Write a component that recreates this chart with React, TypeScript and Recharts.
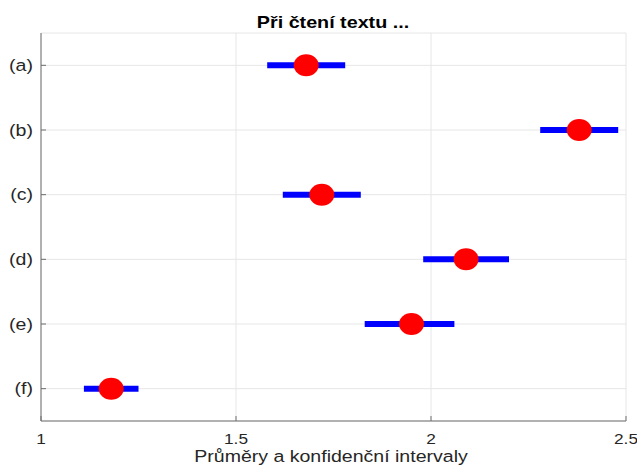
import React from 'react';
import { ScatterChart, Scatter, XAxis, YAxis, CartesianGrid, ErrorBar } from 'recharts';

// Groups shown on the vertical axis, top to bottom
const categories = ['(a)', '(b)', '(c)', '(d)', '(e)', '(f)'];
// Group means and the bounds of their confidence intervals
const means = [1.68, 2.38, 1.72, 2.09, 1.95, 1.18];
const lower = [1.58, 2.28, 1.62, 1.98, 1.83, 1.11];
const upper = [1.78, 2.48, 1.82, 2.2, 2.06, 1.25];
const xTicks = [1, 1.5, 2, 2.5];
const yTicks = [1, 2, 3, 4, 5, 6];

const titleText = 'Při čtení textu ...';
const xLabelText = 'Průměry a konfidenční intervaly';

const rows = categories.map((label, i) => ({
  label,
  pos: i + 1,
  mean: means[i],
  ci: [means[i] - lower[i], upper[i] - means[i]],
}));

const FONT = '"Liberation Sans", Arial, Helvetica, sans-serif';
const AXIS = '#6e6e6e';
const TEXT = '#262626';
// Text is drawn slightly widened to suit the wide figure aspect
const WIDEN = 1.15;

const MeanDot = (props: any) => {
  const { cx, cy } = props;
  if (cx == null || cy == null) return null;
  return <ellipse cx={cx} cy={cy} rx={12.5} ry={11} fill="#ff0000" />;
};

const NoDot = () => <g />;

const XTick = (props: any) => {
  const { x, y, payload } = props;
  return (
    <g transform={`translate(${x},${y + 12}) scale(${WIDEN},1)`}>
      <text x={0} y={0} textAnchor="middle" fill={TEXT} fontSize={15} fontFamily={FONT}>
        {String(payload.value)}
      </text>
    </g>
  );
};

const YTick = (props: any) => {
  const { x, y, payload } = props;
  return (
    <g transform={`translate(${x},${y + 5.5}) scale(${WIDEN},1)`}>
      <text x={0} y={0} textAnchor="end" fill={TEXT} fontSize={17} fontFamily={FONT}>
        {categories[payload.value - 1] ?? ''}
      </text>
    </g>
  );
};

export default function App() {
  return (
    <div style={{ position: 'absolute', left: 0, top: 0, width: 637, height: 469, background: '#fff', fontFamily: FONT }}>
      <ScatterChart width={637} height={469} margin={{ top: 33, right: 11, bottom: 0, left: 0 }} style={{ fontFamily: FONT }}>
        <CartesianGrid stroke="#e6e6e6" strokeWidth={1} />
        <XAxis
          type="number"
          dataKey="mean"
          domain={[1, 2.5]}
          ticks={xTicks}
          allowDataOverflow
          height={48}
          stroke={AXIS}
          tickSize={-5}
          tickMargin={16}
          tick={XTick}
        />
        <YAxis
          type="number"
          dataKey="pos"
          domain={[0.5, 6.5]}
          ticks={yTicks}
          reversed
          width={41}
          stroke={AXIS}
          tickSize={-5}
          tickMargin={13}
          tick={YTick}
        />
        <Scatter data={rows} shape={NoDot} isAnimationActive={false}>
          <ErrorBar dataKey="ci" direction="x" width={0} stroke="#0000ff" strokeWidth={6} isAnimationActive={false} />
        </Scatter>
        <Scatter data={rows} shape={MeanDot} isAnimationActive={false} />
      </ScatterChart>
      <svg width={637} height={469} style={{ position: 'absolute', left: 0, top: 0, pointerEvents: 'none' }}>
        <g transform={`translate(333,28.3) scale(1.16,1)`}>
          <text x={0} y={0} textAnchor="middle" fontSize={17} fontWeight="bold" fill="#000" fontFamily={FONT}>
            {titleText}
          </text>
        </g>
        <g transform={`translate(331,462) scale(${WIDEN},1)`}>
          <text x={0} y={0} textAnchor="middle" fontSize={17} fill={TEXT} fontFamily={FONT}>
            {xLabelText}
          </text>
        </g>
      </svg>
    </div>
  );
}
